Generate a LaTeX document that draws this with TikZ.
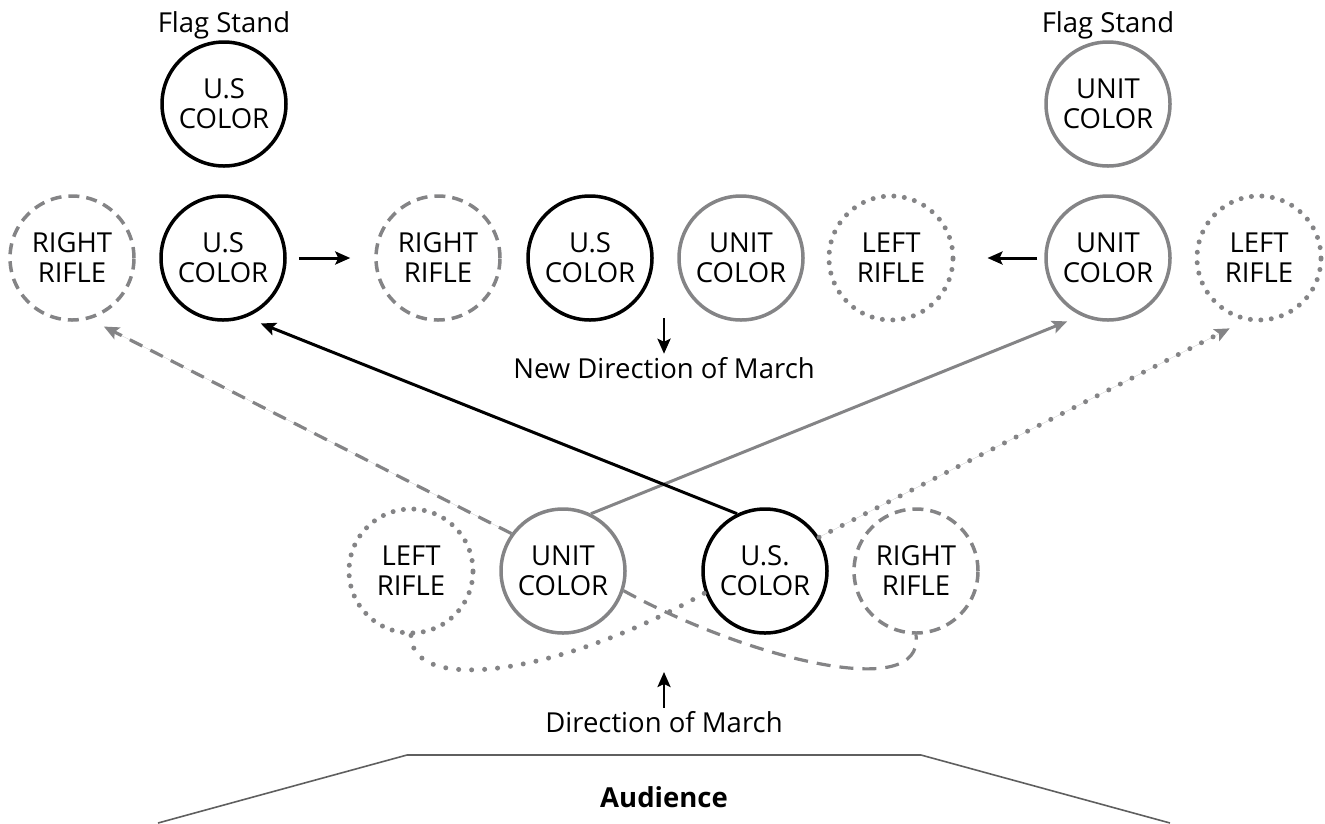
\documentclass[tikz,border=0pt]{standalone}
\usepackage{fontspec}
\setmainfont{Open Sans}
\usetikzlibrary{arrows.meta}
\definecolor{mgray}{RGB}{132,132,134}
\definecolor{lgray}{RGB}{95,95,95}
\begin{document}
\begin{tikzpicture}[x=1pt,y=-1pt,
  every node/.style={font=\fontsize{27.5}{30}\selectfont, inner sep=3pt},
  circ/.style={circle, minimum size=124pt, inner sep=0pt, align=center, line width=3.5pt},
  uscol/.style={circ, draw=black},
  unitcol/.style={circ, draw=mgray},
  rrifle/.style={circ, draw=mgray, dash pattern=on 11pt off 7pt},
  lrifle/.style={circ, draw=mgray, line cap=round, dash pattern=on 0pt off 10.5pt, line width=5pt},
  tip/.style={-{Stealth[length=15pt,width=13pt,inset=3pt]}},
  conn/.style={tip, line width=3pt},
  dashconn/.style={tip, line width=3.2pt, draw=mgray, dash pattern=on 14pt off 9pt},
  dotconn/.style={tip, line width=5pt, draw=mgray, line cap=round, dash pattern=on 0pt off 13pt},
  lbl/.style={anchor=base}
]
\useasboundingbox (0,0) rectangle (1325,823);

% flag stands
\node[lbl] (fl1) at (224,32) {Flag Stand};
\node[lbl] (fl2) at (1108,32) {Flag Stand};
\node[uscol] (fs1) at (224,104) {U.S\\COLOR};
\node[unitcol] (fs2) at (1108,104) {UNIT\\COLOR};

% row 2
\node[rrifle] (rr1) at (72,258) {RIGHT\\RIFLE};
\node[uscol] (us1) at (223,258) {U.S\\COLOR};
\node[rrifle] (rr2) at (438,258) {RIGHT\\RIFLE};
\node[uscol] (us2) at (590,258) {U.S\\COLOR};
\node[unitcol] (un2) at (741,258) {UNIT\\COLOR};
\node[lrifle] (lr2) at (891,258) {LEFT\\RIFLE};
\node[unitcol] (un1) at (1108,258) {UNIT\\COLOR};
\node[lrifle] (lr1) at (1259,258) {LEFT\\RIFLE};

\draw[conn] ([xshift=12pt]us1.east) -- ([xshift=-24pt]rr2.west);
\draw[conn] ([xshift=-7pt]un1.west) -- ([xshift=32pt]lr2.east);

\node[lbl] (ndm) at (664,378) {New Direction of March};
\coordinate (d1) at (664,318);
\draw[conn, line width=2.6pt] (d1) -- (ndm.north);

% bottom row
\node[lrifle] (lr3) at (411,571) {LEFT\\RIFLE};
\node[unitcol] (un3) at (563,571) {UNIT\\COLOR};
\node[uscol] (us3) at (765,571) {U.S.\\COLOR};
\node[rrifle] (rr3) at (916,571) {RIGHT\\RIFLE};

% long connectors
\draw[conn, draw=mgray, fill=mgray, shorten >=15pt] (un3.64) -- (un1.-115);
\draw[conn, shorten >=16pt] (us3.116) -- (us1.-69);
\draw[dashconn, fill=mgray, shorten >=16pt] (un3.144) -- (rr1.-74);
\draw[dotconn, fill=mgray, shorten >=16.5pt] (us3.32) -- (lr1.-103);

% bottom curves
\draw[mgray, line width=5pt, line cap=round, dash pattern=on 0pt off 13pt]
  (lr3.south) .. controls (411,695) and (560,675) .. (us3.200);
\draw[mgray, line width=3.2pt, dash pattern=on 14pt off 9pt]
  (un3.-18) .. controls (740,655) and (925,705) .. (rr3.south);

% direction of march
\node[lbl] (dom) at (664,732) {Direction of March};
\coordinate (d2) at (664,672);
\draw[conn, line width=2.6pt] (dom.north) -- (d2);

% audience
\draw[lgray, line width=1.6pt] (158,823) -- (407,755) -- (921,755) -- (1170,823);
\node[lbl, font=\fontsize{27.5}{30}\selectfont\bfseries] (aud) at (664,807) {Audience};
\end{tikzpicture}
\end{document}
